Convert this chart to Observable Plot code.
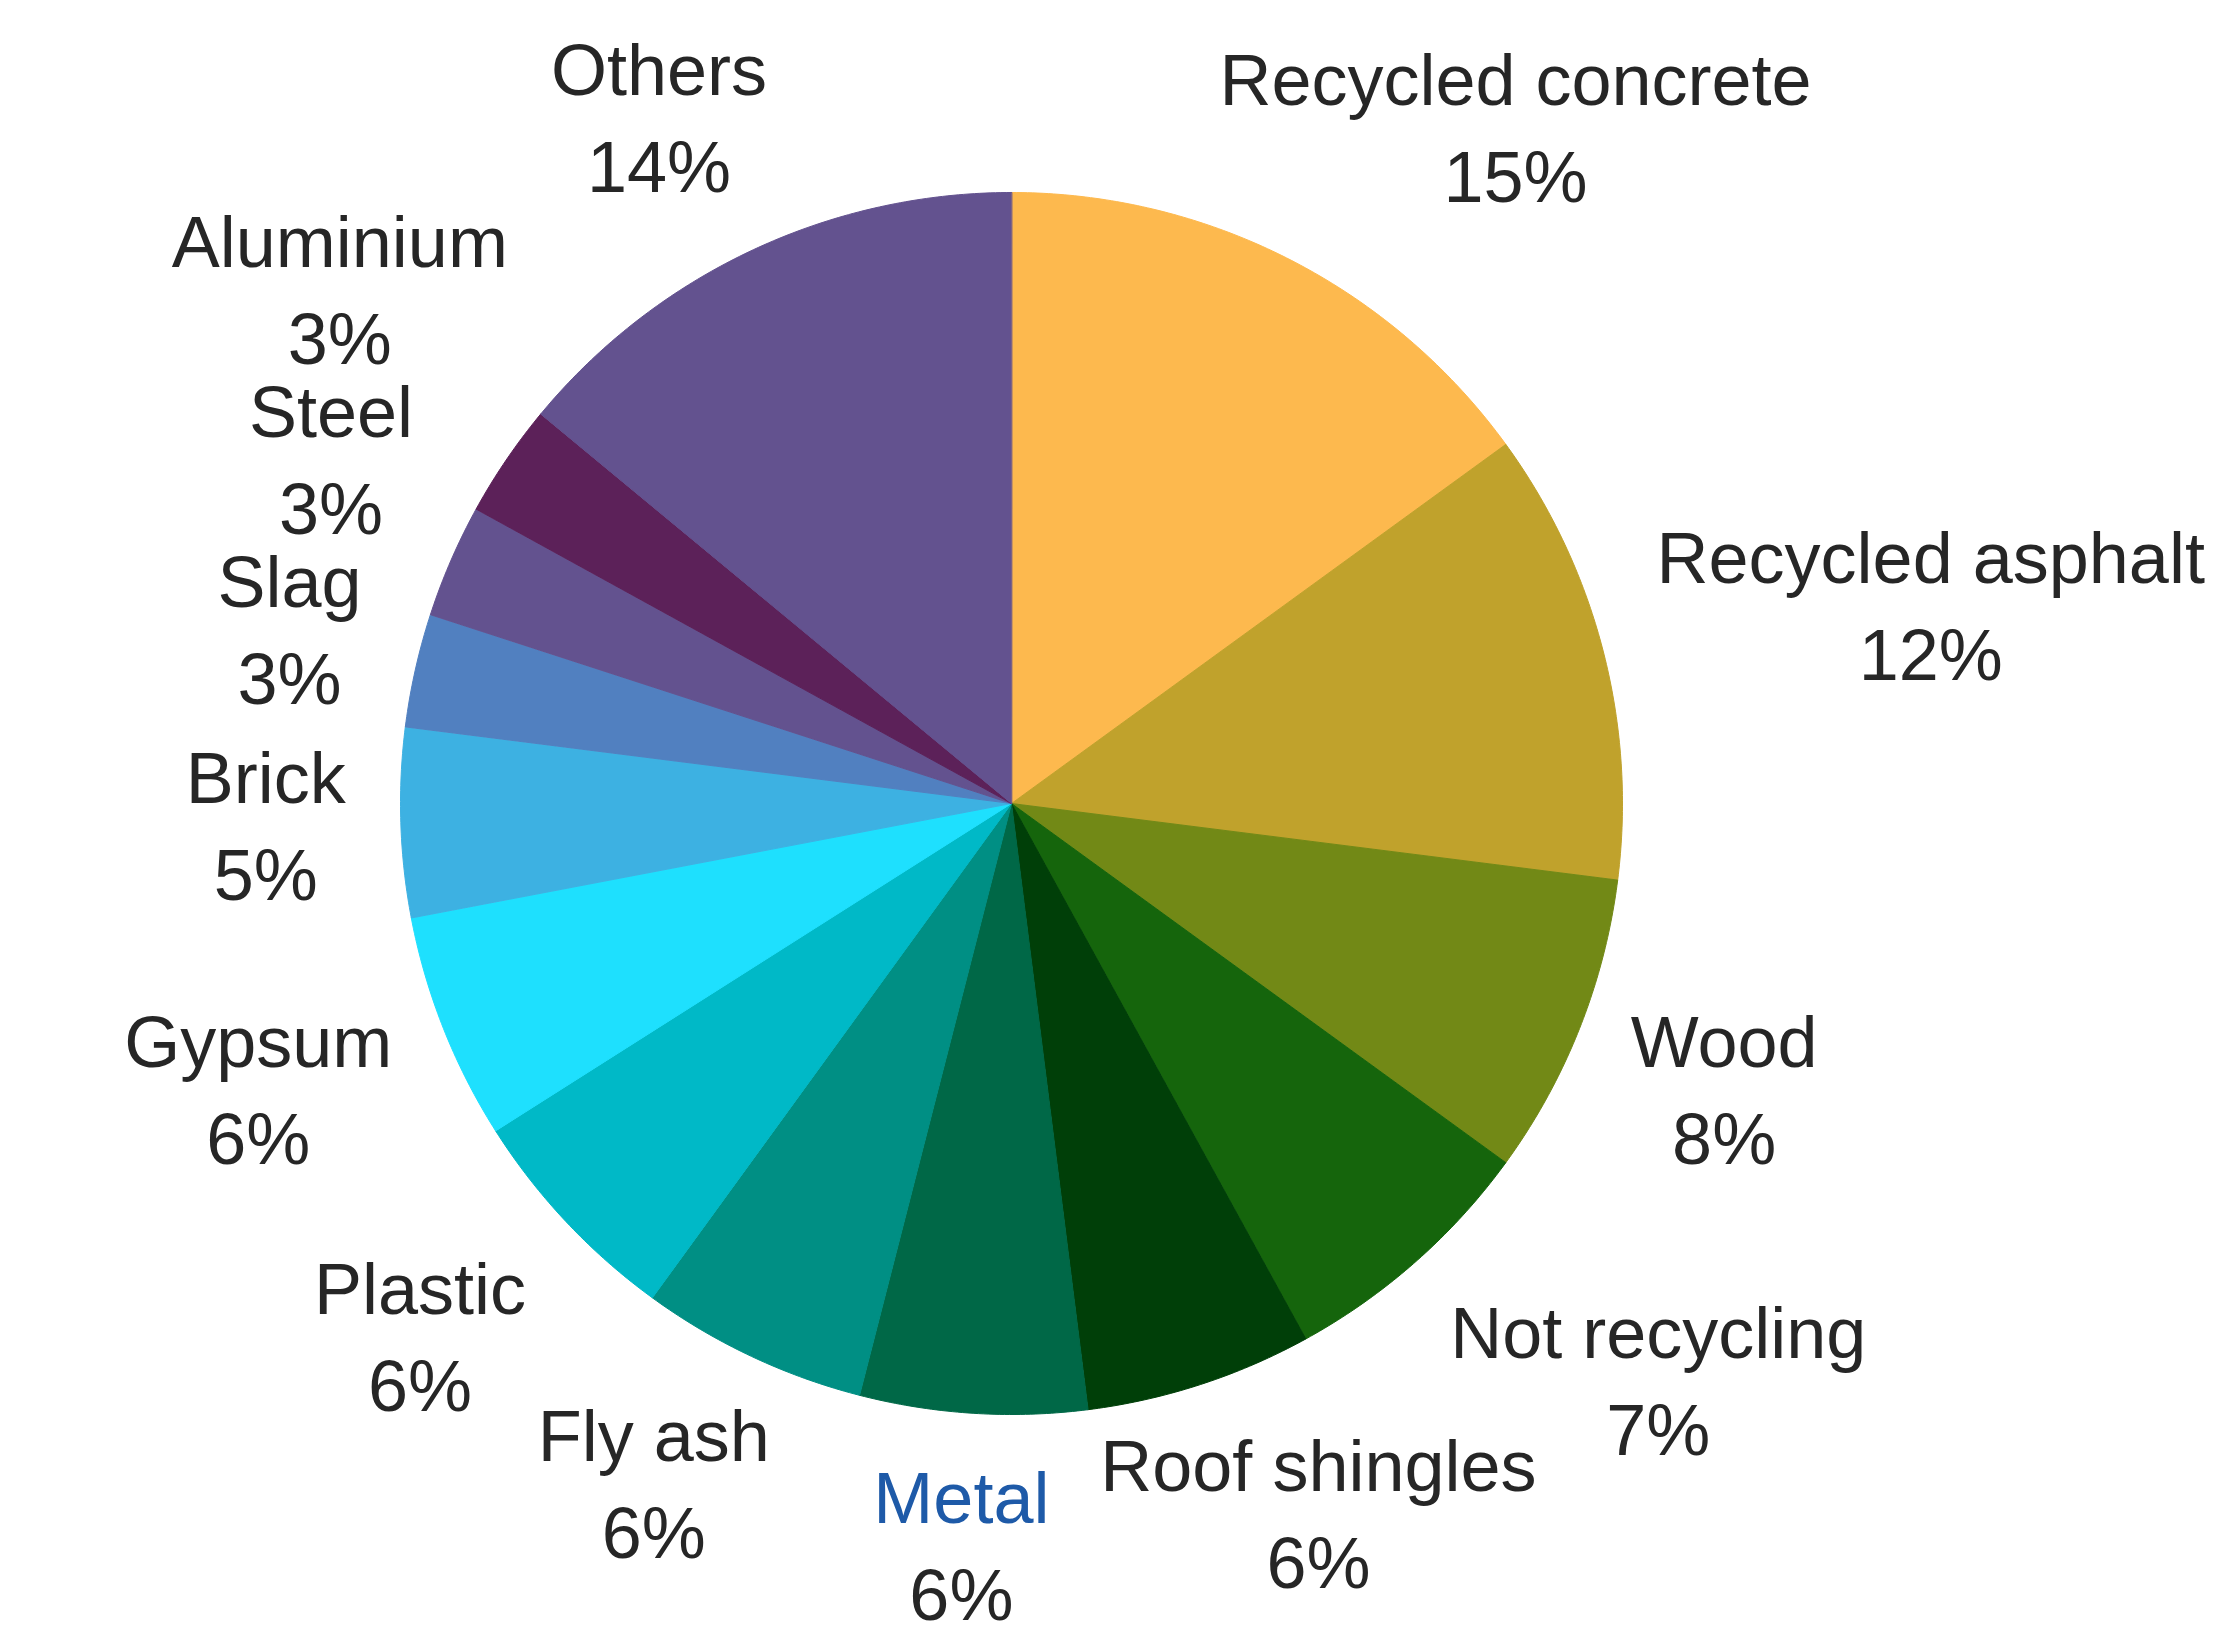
<!DOCTYPE html>
<html>
<head>
<meta charset="utf-8">
<script src="https://cdn.jsdelivr.net/npm/d3@7"></script>
<script src="https://cdn.jsdelivr.net/npm/@observablehq/plot@0.6"></script>
<style>
  html, body { margin: 0; padding: 0; background: #ffffff; }
  #chart svg { display: block; }
</style>
</head>
<body>
<div id="chart"></div>
<script>
// ---- data ----
const categories = [
  "Recycled concrete", "Recycled asphalt", "Wood", "Not recycling",
  "Roof shingles", "Metal", "Fly ash", "Plastic", "Gypsum", "Brick",
  "Slag", "Steel", "Aluminium", "Others"
];
const percents = [15, 12, 8, 7, 6, 6, 6, 6, 6, 5, 3, 3, 3, 14];
const sliceColors = [
  "#fdb94e", "#c0a22c", "#728916", "#15650c",
  "#003f08", "#006847", "#008f84", "#00b9c7", "#1ee0fe", "#3db1e2",
  "#5180c0", "#63528f", "#5c2159", "#63528f"
];

// ---- layout constants (pixels) ----
const W = 2222, H = 1647;
const CX = 1011, CY = 803, R = 611;      // pie centre and radius
const FONT = 72, LINE = 97, GAP = 55, HALF_H = 80;

// pie angles (clockwise from 12 o'clock)
const arcs = d3.pie().sort(null).value(d => d)(percents);

// slice outlines in pie units (radius 1, y up)
const pts = [];
arcs.forEach((a, i) => {
  const cat = categories[i];
  pts.push({cat, x: 0, y: 0});
  const n = Math.max(4, Math.ceil((a.endAngle - a.startAngle) / (Math.PI / 360)));
  for (let k = 0; k <= n; k++) {
    const t = a.startAngle + (a.endAngle - a.startAngle) * k / n;
    pts.push({cat, x: Math.sin(t), y: Math.cos(t)});
  }
});

// ---- label layout from slice mid-angles, with overlap avoidance ----
const ctx = document.createElement("canvas").getContext("2d");
ctx.font = `${FONT}px "Liberation Sans", Arial, sans-serif`;
const clamp = v => Math.max(-1, Math.min(1, v));

const items = arcs.map((a, i) => {
  const th = (a.startAngle + a.endAngle) / 2;
  const s = Math.sin(th), c = Math.cos(th);
  const name = categories[i], pct = percents[i] + "%";
  const wn = ctx.measureText(name).width, wp = ctx.measureText(pct).width;
  const w = Math.max(wn, wp);
  const px = CX + (R + GAP) * s + (w / 2) * clamp(1.5 * s);
  const py = CY - (R + GAP) * c + HALF_H * clamp(-1.5 * c);
  return {i, name, pct, wn, wp, s, c, px, py, v: percents[i]};
});

function boxes(it, x, y) {
  return [
    {x0: x - it.wn / 2, x1: x + it.wn / 2, y0: y - LINE / 2 - 34, y1: y - LINE / 2 + 34},
    {x0: x - it.wp / 2, x1: x + it.wp / 2, y0: y + LINE / 2 - 34, y1: y + LINE / 2 + 34}
  ];
}
const PAD = 4;
function hit(a, b) {
  return a.x0 < b.x1 + PAD && b.x0 < a.x1 + PAD && a.y0 < b.y1 + PAD && b.y0 < a.y1 + PAD;
}
function valid(bx, placed) {
  for (const b of bx) {
    if (b.x0 < 4 || b.x1 > W - 4 || b.y0 < 4 || b.y1 > H - 4) return false;
    const nx = Math.max(b.x0, Math.min(CX, b.x1)), ny = Math.max(b.y0, Math.min(CY, b.y1));
    if (Math.hypot(nx - CX, ny - CY) < R + 10) return false;
    for (const p of placed) if (hit(b, p)) return false;
  }
  return true;
}
const order = items.slice().sort((a, b) => b.v - a.v || a.i - b.i);
const placed = [];
for (const it of order) {
  const dirs = [[it.s, -it.c], [it.c, it.s], [-it.c, -it.s]]; // radial out, clockwise, counter-clockwise
  let done = false;
  for (let d = 0; d <= 500 && !done; d += 2) {
    for (const [dx, dy] of dirs) {
      const x = it.px + dx * d, y = it.py + dy * d;
      const bx = boxes(it, x, y);
      if (valid(bx, placed)) { it.x = x; it.y = y; placed.push(...bx); done = true; break; }
    }
  }
  if (!done) { it.x = it.px; it.y = it.py; }
}

const labels = [];
items.forEach(it => {
  const x = (it.x - CX) / R;
  labels.push({cat: it.name, text: it.name, x, y: -(it.y - LINE / 2 - CY) / R, pct: false});
  labels.push({cat: it.name, text: it.pct, x, y: -(it.y + LINE / 2 - CY) / R, pct: true});
});

const chart = Plot.plot({
  width: W,
  height: H,
  margin: 0,
  style: {background: "#ffffff"},
  x: {domain: [(0 - CX) / R, (W - CX) / R], axis: null},
  y: {domain: [-(H - CY) / R, CY / R], axis: null},
  color: {domain: categories, range: sliceColors},
  marks: [
    Plot.line(pts, {
      x: "x", y: "y", z: "cat",
      fill: "cat", stroke: "cat", strokeWidth: 1,
      curve: "linear-closed"
    }),
    Plot.text(labels, {
      x: "x", y: "y", text: "text",
      fontSize: FONT,
      fontFamily: '"Liberation Sans", Arial, sans-serif',
      textAnchor: "middle",
      fill: d => (d.cat === "Metal" && !d.pct) ? "#1e5aa8" : "#262626"
    })
  ]
});
document.getElementById("chart").appendChild(chart);
</script>
</body>
</html>
